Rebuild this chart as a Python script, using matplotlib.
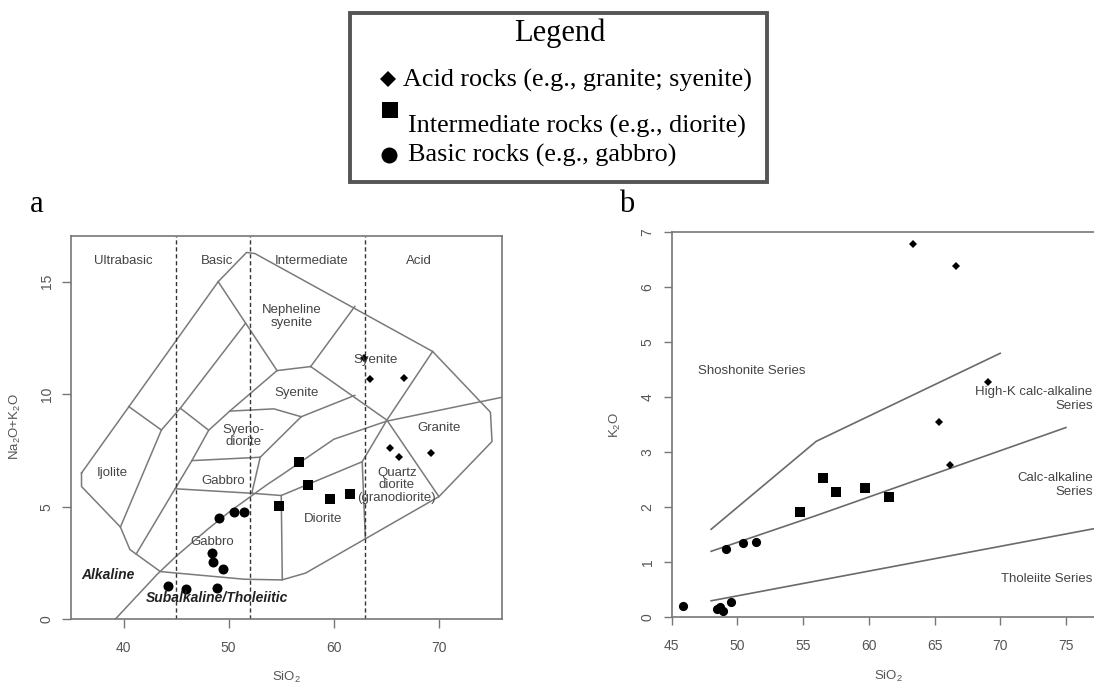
import matplotlib
matplotlib.use('Agg')
import matplotlib.pyplot as plt
from matplotlib.patches import Rectangle
from matplotlib.lines import Line2D

plt.rcParams['font.family'] = ['Liberation Sans', 'DejaVu Sans']
plt.rcParams['mathtext.default'] = 'regular'

# ---- panel a: TAS samples (SiO2 vs Na2O+K2O)
acid_sio2_a = [62.85, 63.4, 66.65, 65.3, 66.2, 69.2]
acid_alk_a = [11.6, 10.67, 10.71, 7.6, 7.23, 7.38]
inter_sio2_a = [56.65, 57.5, 59.67, 61.5, 54.8]
inter_alk_a = [7.0, 5.97, 5.33, 5.57, 5.05]
basic_sio2_a = [49.1, 50.46, 51.5, 48.4, 48.55, 49.5, 44.27, 45.9, 48.9]
basic_alk_a = [4.49, 4.78, 4.78, 2.96, 2.53, 2.22, 1.49, 1.33, 1.40]

# ---- panel b: SiO2 vs K2O samples
acid_sio2_b = [63.34, 66.64, 69.1, 65.34, 66.18]
acid_k2o_b = [6.79, 6.39, 4.28, 3.55, 2.77]
inter_sio2_b = [54.76, 56.54, 57.5, 59.7, 61.5]
inter_k2o_b = [1.91, 2.54, 2.27, 2.35, 2.19]
basic_sio2_b = [49.13, 50.45, 51.4, 45.84, 48.42, 48.68, 48.93, 49.49]
basic_k2o_b = [1.25, 1.35, 1.37, 0.21, 0.15, 0.18, 0.11, 0.27]

# ---- TAS (plutonic) field boundaries
tas_outer = [(36.0, 6.5), (49.0, 15.0), (51.7, 16.3), (52.5, 16.25), (69.4, 11.9),
             (74.9, 9.2), (75.05, 7.9), (70.0, 5.45), (57.3, 2.05), (55.05, 1.75),
             (51.5, 1.78), (43.5, 2.12), (40.6, 3.1), (39.7, 4.1), (36.0, 5.9), (36.0, 6.5)]
tas_lines = [
    [(49.0, 15.0), (54.6, 11.05)],
    [(51.6, 13.15), (45.4, 9.38), (43.6, 8.41), (39.7, 4.1)],
    [(40.5, 9.45), (43.6, 8.41)],
    [(45.4, 9.38), (48.1, 8.4)],
    [(54.6, 11.05), (50.1, 9.25), (48.1, 8.4), (46.5, 7.05), (44.9, 5.8), (41.2, 2.9)],
    [(54.6, 11.05), (57.8, 11.23)],
    [(57.8, 11.23), (62.0, 13.9)],
    [(57.8, 11.23), (65.05, 8.85)],
    [(65.05, 8.85), (69.4, 11.9)],
    [(50.1, 9.25), (54.3, 9.35), (56.9, 9.0)],
    [(56.9, 9.0), (62.0, 9.95)],
    [(53.0, 7.2), (56.9, 9.0)],
    [(46.5, 7.05), (53.0, 7.2)],
    [(53.0, 7.2), (52.2, 5.6)],
    [(44.9, 5.8), (52.2, 5.6), (55.0, 5.5), (62.7, 7.0)],
    [(55.0, 5.5), (55.1, 1.75)],
    [(65.05, 8.85), (62.7, 7.0), (63.0, 3.6)],
    [(65.05, 8.85), (70.0, 5.45)],
]
# alkaline / subalkaline divide (Irvine & Baragar)
alk_x = [39.2, 40, 43.2, 45, 48, 50, 53.7, 55, 60, 65, 77.4]
alk_y = [0, 0.4, 2, 2.8, 4, 4.75, 6, 6.4, 8, 8.8, 10]
silica_div = [45, 52, 63]

tas_labels = [
    ('Ultrabasic', 40.0, 15.94), ('Basic', 48.9, 15.94), ('Intermediate', 57.9, 15.94),
    ('Acid', 68.1, 15.94), ('Nepheline\nsyenite', 56.0, 13.45), ('Syenite', 63.95, 11.5),
    ('Syenite', 56.5, 10.04), ('Syeno-\ndiorite', 51.4, 8.15), ('Ijolite', 38.9, 6.49),
    ('Gabbro', 49.5, 6.16), ('Gabbro', 48.4, 3.45), ('Diorite', 59.0, 4.44),
    ('Quartz\ndiorite\n(granodiorite)', 66.0, 5.95), ('Granite', 70.0, 8.49),
]

# ---- Peccerillo & Taylor series boundaries
sho_x, sho_y = [48, 56, 70], [1.6, 3.2, 4.8]
hk_x, hk_y = [48, 56, 75], [1.2, 1.85, 3.45]
th_x, th_y = [48, 68, 80], [0.3, 1.2, 1.74]

W, H = 1094, 683
fig = plt.figure(figsize=(W / 100, H / 100), dpi=100)

axis_col = '#777777'
txt_col = '#444444'
line_col = '#7a7a7a'

# ================= panel a
ax = fig.add_axes([71 / W, 1 - 619.3 / H, 431 / W, 383.3 / H])
ax.set_xlim(35, 76)
ax.set_ylim(0, 17.03)
ox, oy = zip(*tas_outer)
ax.plot(ox, oy, color=line_col, lw=1.1)
for seg in tas_lines:
    sx, sy = zip(*seg)
    ax.plot(sx, sy, color=line_col, lw=1.1)
ax.plot(alk_x, alk_y, color=line_col, lw=1.1)
for d in silica_div:
    ax.axvline(d, color='#333333', lw=1.0, ls=(0, (3, 2)))
for t, x, y in tas_labels:
    ax.text(x, y, t, ha='center', va='center', fontsize=9.5, color=txt_col, linespacing=1.05)
ax.text(38.55, 1.97, 'Alkaline', ha='center', va='center', fontsize=10,
        style='italic', weight='bold', color='#222222')
ax.text(48.9, 0.93, 'Subalkaline/Tholeiitic', ha='center', va='center', fontsize=10,
        style='italic', weight='bold', color='#222222')

ax.plot(acid_sio2_a, acid_alk_a, 'D', color='black', ms=4.5, mew=0)
ax.plot(inter_sio2_a, inter_alk_a, 's', color='black', ms=6.8, mew=0)
ax.plot(basic_sio2_a, basic_alk_a, 'o', color='black', ms=7.2, mew=0)

ax.set_xticks([40, 50, 60, 70])
ax.set_yticks([0, 5, 10, 15])
ax.tick_params(axis='both', length=6.5, width=1, color=axis_col, labelcolor='#555555',
               labelsize=10)
ax.tick_params(axis='x', pad=9)
ax.tick_params(axis='y', pad=6)
for lab in ax.get_yticklabels():
    lab.set_rotation(90)
    lab.set_va('center')
for sp in ax.spines.values():
    sp.set_color(axis_col)
    sp.set_linewidth(1.2)

fig.text(286.5 / W, 1 - 677 / H, 'SiO$_2$', ha='center', va='center', fontsize=9.5, color='#555555')
fig.text(15 / W, 1 - 427 / H, 'Na$_2$O+K$_2$O', ha='center', va='center', rotation=90,
         fontsize=9.5, color='#555555')
fig.text(36.7 / W, 1 - 205 / H, 'a', ha='center', va='center', fontsize=22,
         family='Liberation Serif')

# ================= panel b (right side cropped by the figure edge)
bx = fig.add_axes([671.7 / W, 1 - 617.3 / H, 35 * 13.14 / W, 385 / H])
bx.set_xlim(45, 80)
bx.set_ylim(0, 7)
bx.plot(sho_x, sho_y, color='#6a6a6a', lw=1.2)
bx.plot(hk_x, hk_y, color='#6a6a6a', lw=1.2)
bx.plot(th_x, th_y, color='#6a6a6a', lw=1.2)

bx.text(47.03, 4.48, 'Shoshonite Series', ha='left', va='center', fontsize=9.5, color=txt_col)
bx.text(77.04, 3.97, 'High-K calc-alkaline\nSeries', ha='right', va='center', ma='right',
        fontsize=9.5, color=txt_col)
bx.text(77.04, 2.40, 'Calc-alkaline\nSeries', ha='right', va='center', ma='right',
        fontsize=9.5, color=txt_col)
bx.text(77.04, 0.70, 'Tholeiite Series', ha='right', va='center', fontsize=9.5, color=txt_col)

bx.plot(acid_sio2_b, acid_k2o_b, 'D', color='black', ms=3.9, mew=0)
bx.plot(inter_sio2_b, inter_k2o_b, 's', color='black', ms=6.6, mew=0)
bx.plot(basic_sio2_b, basic_k2o_b, 'o', color='black', ms=6.6, mew=0)

bx.set_xticks([45, 50, 55, 60, 65, 70, 75])
bx.set_yticks(range(0, 8))
bx.tick_params(axis='both', length=5.8, width=1, color=axis_col, labelcolor='#555555',
               labelsize=10)
bx.tick_params(axis='x', pad=10)
bx.tick_params(axis='y', pad=6.5)
for lab in bx.get_yticklabels():
    lab.set_rotation(90)
    lab.set_va('center')
for sp in bx.spines.values():
    sp.set_color(axis_col)
    sp.set_linewidth(1.2)

fig.text(888.3 / W, 1 - 676.7 / H, 'SiO$_2$', ha='center', va='center', fontsize=9.5, color='#555555')
fig.text(615 / W, 1 - 425 / H, 'K$_2$O', ha='center', va='center', rotation=90,
         fontsize=9.5, color='#555555')
fig.text(627 / W, 1 - 205 / H, 'b', ha='center', va='center', fontsize=22,
         family='Liberation Serif')

# ================= legend box
fig.patches.append(Rectangle((349.5 / W, 1 - 181.5 / H), 417.5 / W, 168.5 / H,
                             transform=fig.transFigure, fill=False,
                             edgecolor='#555555', lw=2.8))
serif = 'Liberation Serif'
fig.text(560 / W, 1 - 33.3 / H, 'Legend', ha='center', va='center', fontsize=22, family=serif)
fig.add_artist(Line2D([388.3 / W], [1 - 79.3 / H], marker='D', ms=8, color='black', mew=0,
                      transform=fig.transFigure))
fig.text(403.3 / W, 1 - 80 / H, 'Acid rocks (e.g., granite; syenite)', ha='left', va='center',
         fontsize=18.8, family=serif)
fig.add_artist(Line2D([390 / W], [1 - 110 / H], marker='s', ms=11.5, color='black', mew=0,
                      transform=fig.transFigure))
fig.text(408.3 / W, 1 - 126 / H, 'Intermediate rocks (e.g., diorite)', ha='left', va='center',
         fontsize=18.8, family=serif)
fig.add_artist(Line2D([389 / W], [1 - 155 / H], marker='o', ms=11.5, color='black', mew=0,
                      transform=fig.transFigure))
fig.text(408.3 / W, 1 - 155 / H, 'Basic rocks (e.g., gabbro)', ha='left', va='center',
         fontsize=18.8, family=serif)

fig.savefig('out.png', dpi=100)
